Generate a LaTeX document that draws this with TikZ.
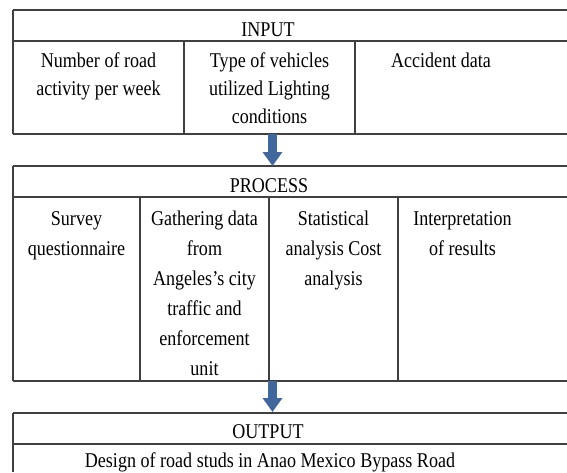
\documentclass[tikz,border=0pt]{standalone}
\usepackage{fontspec}
\setmainfont{Liberation Serif}[FakeStretch=0.86]
\usepackage{xcolor}
\usetikzlibrary{arrows.meta}

\definecolor{flowblue}{HTML}{41689C}

\tikzset{
  rule/.style={line width=1.3pt, black!75},
  celltext/.style={anchor=base, align=center, inner sep=0pt, font=\fontsize{21}{28}\selectfont},
  proctext/.style={celltext, font=\fontsize{21}{30}\selectfont},
  flow/.style={line width=9pt, flowblue, -{Triangle[width=19pt,length=14pt]}},
}

\begin{document}
\begin{tikzpicture}[x=1pt,y=-1pt]
            \useasboundingbox (0,0) rectangle (567,472);
            % input table
            \draw[rule] (13,10) -- (567,10);
            \draw[rule] (13,41) -- (567,41);
            \draw[rule] (13,134) -- (567,134);
            \draw[rule] (13,10) -- (13,134);
            \draw[rule] (184,41) -- (184,134);
            \draw[rule] (355,41) -- (355,134);
            % (base = last line of a cell)
            \node[celltext](inhead) at (268,36.5) {INPUT};
            \node[celltext](ina) at (98.5,95) {Number of road\\activity per week};
            \node[celltext](inb) at (269.5,123) {Type of vehicles\\utilized Lighting\\conditions};
            \node[celltext](inc) at (441,67) {Accident data};
            % process table
            \draw[rule] (13,166) -- (567,166);
            \draw[rule] (13,197) -- (567,197);
            \draw[rule] (13,381) -- (567,381);
            \draw[rule] (13,166) -- (13,381);
            \draw[rule] (140,197) -- (140,381);
            \draw[rule] (269,197) -- (269,381);
            \draw[rule] (398,197) -- (398,381);
            \node[proctext](prhead) at (269,192) {PROCESS};
            \node[proctext](pra) at (76.5,255) {Survey\\questionnaire};
            \node[proctext](prb) at (204.5,375) {Gathering data\\from\\Angeles's city\\traffic and\\enforcement\\unit};
            \node[proctext](prc) at (333.5,285) {Statistical\\analysis Cost\\analysis};
            \node[proctext](prd) at (462.5,255) {Interpretation\\of results};
            % output table
            \draw[rule] (13,413) -- (567,413);
            \draw[rule] (13,444) -- (567,444);
            \draw[rule] (13,413) -- (13,472);
            \node[celltext](outhead) at (268,438) {OUTPUT};
            \node[celltext](outa) at (270,467) {Design of road studs in Anao Mexico Bypass Road};
            % arrows
            \coordinate (inbot) at (272.5,134);
            \coordinate (prtop) at (272.5,166);
            \coordinate (prbot) at (272.5,381);
            \coordinate (outtop) at (272.5,412);
            \draw[flow] (inbot) -- (prtop);
            \draw[flow] (prbot) -- (outtop);
        \end{tikzpicture}
\end{document}
